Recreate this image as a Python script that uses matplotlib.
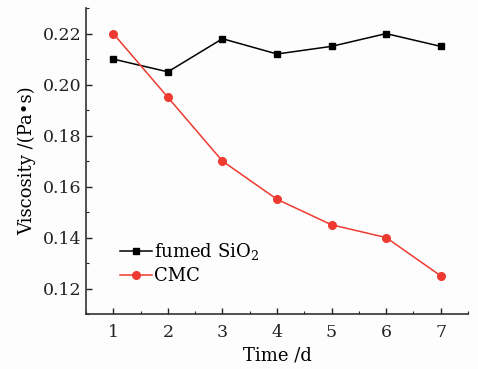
import matplotlib
matplotlib.use("Agg")
import matplotlib.pyplot as plt
from matplotlib.ticker import MultipleLocator

days = [1, 2, 3, 4, 5, 6, 7]
sio2 = [0.210, 0.205, 0.218, 0.212, 0.215, 0.220, 0.215]
cmc = [0.220, 0.195, 0.170, 0.155, 0.145, 0.140, 0.125]
xticks = [1, 2, 3, 4, 5, 6, 7]
yticks = [0.12, 0.14, 0.16, 0.18, 0.20, 0.22]

plt.rcParams['font.family'] = ['DejaVu Serif']
plt.rcParams['mathtext.fontset'] = 'dejavuserif'

fig = plt.figure(figsize=(4.78, 3.69), dpi=100)
fig.patch.set_facecolor('#fdfdfd')
ax = fig.add_axes([0.180, 0.149, 0.799, 0.829])
ax.set_facecolor('#fdfdfd')

ax.plot(days, sio2, color='black', marker='s', markersize=5, linewidth=1.1,
        label='fumed SiO$_2$')
ax.plot(days, cmc, color='#ee3a30', marker='o', markersize=5.5, linewidth=1.1,
        label='CMC')

ax.set_xlim(0.5, 7.5)
ax.set_ylim(0.110, 0.230)
ax.set_xticks(xticks)
ax.set_xticklabels([str(v) for v in xticks])
ax.set_yticks(yticks)
ax.set_yticklabels([f"{v:.2f}" for v in yticks])
ax.xaxis.set_minor_locator(MultipleLocator(0.5))
ax.yaxis.set_minor_locator(MultipleLocator(0.01))

for s in ['top', 'right']:
    ax.spines[s].set_visible(False)
for s in ['left', 'bottom']:
    ax.spines[s].set_linewidth(1.2)
    ax.spines[s].set_color('#333333')

ax.tick_params(which='major', direction='in', length=4, width=1.0, labelsize=12.5, colors='#222222')
ax.tick_params(which='minor', direction='in', length=2.5, width=0.8, colors='#222222')
ax.tick_params(axis='x', which='major', pad=7)
ax.tick_params(axis='y', which='major', pad=3)

ax.set_xlabel('Time /d', fontsize=13, labelpad=4)
ax.set_ylabel('Viscosity /(Pa•s)', fontsize=13, labelpad=5)

ax.legend(loc='lower left', bbox_to_anchor=(0.07, 0.07), frameon=False,
          fontsize=13, handlelength=1.8, handletextpad=0.1, labelspacing=0.3,
          borderaxespad=0)

fig.savefig('out.png', dpi=100, facecolor=fig.get_facecolor())
